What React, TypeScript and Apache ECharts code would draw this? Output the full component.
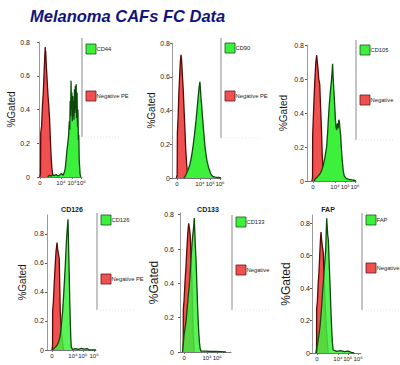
import React, { useEffect, useRef } from "react";
import * as echarts from "echarts";

// ---------- data (x in display units 0..100 of the biexponential axis, y = fraction gated) ----------
const panelNames = ["CD44", "CD90", "CD105", "CD126", "CD133", "FAP"];
const negNames = ["Negative PE", "Negative PE", "Negative", "Negative PE", "Negative", "Negative"];
const panelTitles = ["", "", "", "CD126", "CD133", "FAP"];
const yTickValues = [0, 0.2, 0.4, 0.6, 0.8];
const xTickLabels = ["0", "10⁴", "10⁵", "10⁶"];
const xTickPos = [
  [2, 51, 77, 98],
  [10, 57, 78, 98],
  [12, 57, 78, 98],
  [10, 53, 73, 96],
  [8, 53, 73, 90],
  [10, 53, 73, 94],
];
const yMax = [0.8, 0.8, 0.8, 0.93, 0.81, 0.85];

const cd44Neg = [[2,0],[3.5,0.02],[4,0.26],[6,0.3],[8,0.42],[10,0.5],[12,0.63],[13.5,0.72],[14.5,0.77],[15,0.73],[15.5,0.75],[17,0.66],[19,0.57],[21,0.48],[23,0.41],[24.5,0.35],[26,0.25],[28,0.13],[30,0.05],[32,0.015],[34,0]];
const cd44Pos = [[20,0],[24,0.01],[28,0.005],[32,0.012],[36,0.008],[40,0.015],[44,0.006],[48,0.012],[52,0.02],[56,0.01],[59,0.03],[61,0.05],[63,0.1],[65,0.16],[67,0.2],[69,0.25],[70.5,0.33],[71.5,0.28],[72.5,0.45],[73.5,0.36],[74.5,0.57],[75.5,0.4],[76.5,0.5],[77.5,0.33],[78.5,0.48],[79.5,0.36],[80.5,0.45],[81.5,0.34],[82.5,0.52],[83.5,0.38],[84.5,0.54],[85.5,0.4],[86.5,0.55],[87.5,0.35],[88.5,0.5],[89.5,0.3],[90.5,0.4],[91.5,0.22],[92.5,0.25],[93.5,0.1],[94.5,0.06],[95.5,0.02],[97,0]];
const cd90Neg = [[9,0],[10.5,0.02],[11,0.27],[12.5,0.36],[14,0.5],[15.5,0.6],[17,0.69],[18.4,0.73],[19.5,0.7],[21,0.62],[23,0.52],[25,0.38],[26.5,0.28],[28,0.17],[30,0.08],[31.5,0.03],[33,0.005],[35,0]];
const cd90Pos = [[24,0],[27,0.01],[30,0.03],[33,0.05],[36.5,0.08],[40,0.13],[43.5,0.2],[46,0.26],[49,0.34],[51.5,0.42],[53.7,0.49],[55.5,0.54],[57,0.57],[58,0.53],[59,0.48],[60.6,0.43],[62,0.37],[64,0.3],[66,0.23],[67.5,0.18],[69.4,0.14],[71.5,0.1],[74,0.07],[76,0.05],[79,0.025],[83,0.01],[88,0.005],[95,0.003],[100,0]];
const cd105Neg = [[10,0],[11.3,0.02],[11.6,0.27],[13,0.38],[14.9,0.52],[16.5,0.62],[18,0.7],[19.8,0.74],[21,0.7],[22.5,0.66],[24,0.6],[26,0.57],[27.5,0.45],[29.6,0.3],[31,0.16],[32.9,0.06],[34,0.02],[35,0]];
const cd105Pos = [[15,0],[17,0.015],[20,0.02],[23,0.03],[26,0.04],[29.6,0.06],[33,0.09],[36,0.13],[40,0.2],[42,0.28],[43.5,0.36],[45.5,0.45],[47.5,0.52],[49.5,0.58],[51,0.63],[52.2,0.69],[53.5,0.6],[54.5,0.55],[55.7,0.49],[57,0.42],[58,0.36],[59,0.32],[60.5,0.3],[62,0.34],[63.5,0.31],[65,0.36],[66,0.35],[67.5,0.3],[68.7,0.27],[70,0.2],[72,0.12],[74,0.06],[76,0.03],[80,0.015],[86,0.01],[92,0.006],[98,0.003],[100,0]];
const cd126Neg = [[10,0],[11.3,0.03],[11.6,0.27],[13,0.33],[14.5,0.44],[15.7,0.52],[17,0.6],[18.5,0.68],[20.4,0.74],[21.5,0.7],[23,0.67],[25,0.63],[26,0.45],[27,0.27],[28.5,0.17],[30.6,0.09],[32,0.04],[34,0]];
const cd126Pos = [[11,0],[14,0.01],[17,0.02],[20,0.03],[23,0.05],[25,0.07],[27,0.1],[29,0.16],[32,0.27],[34,0.38],[36,0.5],[37.7,0.61],[39.4,0.73],[41,0.82],[42.9,0.9],[44,0.72],[45.5,0.5],[46.5,0.33],[47.5,0.2],[48.5,0.09],[49.6,0.02],[52,0.005],[58,0.01],[64,0.004],[70,0.012],[76,0.006],[82,0.01],[86,0],[100,0]];
const cd133Neg = [[5,0],[6.2,0.03],[6.5,0.25],[8,0.3],[10,0.42],[11.8,0.5],[13.5,0.6],[15,0.68],[17,0.75],[18.5,0.72],[20,0.68],[21,0.6],[22,0.5],[23.5,0.4],[25,0.22],[26,0.1],[27,0.04],[28,0]];
const cd133Pos = [[5,0],[6.5,0.05],[8,0.1],[10,0.14],[11.8,0.18],[14,0.25],[16,0.32],[18,0.38],[20,0.46],[22,0.56],[23.5,0.63],[25,0.68],[26.5,0.72],[28,0.78],[29,0.7],[30,0.62],[31.4,0.54],[33,0.4],[34.7,0.25],[36.5,0.13],[38,0.06],[39.5,0.02],[41,0.005],[50,0.005],[60,0.003],[70,0.004],[80,0.002],[90,0]];
const fapNeg = [[8,0],[9.3,0.03],[9.5,0.27],[11,0.32],[12.5,0.42],[14.3,0.5],[16,0.62],[17.3,0.7],[18.4,0.745],[19.5,0.7],[21,0.66],[23,0.62],[24.5,0.48],[26.5,0.33],[28,0.22],[30,0.12],[31.5,0.05],[33,0]];
const fapPos = [[9,0],[10.5,0.04],[12,0.07],[14,0.11],[16.3,0.16],[18,0.22],[20,0.3],[21.5,0.37],[23,0.43],[24.5,0.5],[26,0.56],[27.9,0.63],[29,0.74],[30,0.83],[31,0.78],[32,0.73],[33.3,0.7],[35,0.56],[36.7,0.43],[38.3,0.29],[40,0.16],[41.5,0.07],[43,0.02],[50,0.01],[58,0.015],[66,0.008],[74,0.012],[80,0.004],[86,0]];

const negSeries = [cd44Neg, cd90Neg, cd105Neg, cd126Neg, cd133Neg, fapNeg];
const posSeries = [cd44Pos, cd90Pos, cd105Pos, cd126Pos, cd133Pos, fapPos];

// ---------- layout ----------
const grids = [
  { left: 39, top: 42, width: 43, height: 135 },
  { left: 172, top: 43, width: 49, height: 135 },
  { left: 307, top: 45, width: 49, height: 136 },
  { left: 47, top: 215, width: 49, height: 135 },
  { left: 180, top: 213, width: 51, height: 139 },
  { left: 312, top: 215, width: 49, height: 138 },
];
const nameGaps = [22, 12, 19, 20, 19, 20];
const nameSizes = [10, 10, 10, 10, 12, 12];
const labelMargins = [9, 2, 3, 3, 6, 2];
const legendLayout = [
  { x: 82, y1: 38, y2: 137, g: 44, r: 91 },
  { x: 221, y1: 38, y2: 138, g: 43, r: 91 },
  { x: 356, y1: 40, y2: 140, g: 45, r: 95 },
  { x: 97, y1: 213, y2: 310, g: 215, r: 274 },
  { x: 232, y1: 215, y2: 310, g: 217, r: 265 },
  { x: 362, y1: 213, y2: 310, g: 215, r: 263 },
];
const titlePos = [null, null, null, { x: 67, y: 201 }, { x: 203, y: 201 }, { x: 323, y: 201 }];

const GREEN = "#3cf03c";
const GREEN_DARK = "#0c4a0c";
const RED = "#f05050";
const RED_DARK = "#5a0808";
const FONT = "'Liberation Sans', Arial, sans-serif";

export default function App() {
  const ref = useRef<HTMLDivElement>(null);
  useEffect(() => {
    document.body.style.margin = "0";
    const chart = echarts.init(ref.current!, null, { renderer: "svg" });

    const xAxis = grids.map((_, i) => ({
      type: "value",
      gridIndex: i,
      min: 0,
      max: 100,
      splitLine: { show: false },
      axisLine: { show: true, lineStyle: { color: "#777", width: 1 } },
      axisTick: { show: true, length: 2, customValues: xTickPos[i], lineStyle: { color: "#777" } },
      axisLabel: {
        show: true,
        customValues: xTickPos[i],
        formatter: (v: number) => {
          const k = xTickPos[i].indexOf(v);
          return k >= 0 ? xTickLabels[k] : "";
        },
        fontSize: 6,
        color: "#222",
        margin: 3,
        fontFamily: FONT,
      },
    }));

    const yAxis = grids.map((_, i) => ({
      type: "value",
      gridIndex: i,
      min: 0,
      max: yMax[i],
      interval: 0.2,
      splitLine: { show: false },
      axisLine: { show: true, lineStyle: { color: "#999", width: 1 } },
      axisTick: { show: true, length: 2, customValues: yTickValues, lineStyle: { color: "#555" } },
      axisLabel: {
        customValues: yTickValues,
        formatter: (v: number) => (v === 0 ? "0" : v.toFixed(1)),
        fontSize: 7,
        color: "#222",
        margin: labelMargins[i],
        fontFamily: FONT,
      },
      name: "%Gated",
      nameLocation: "middle",
      nameRotate: 90,
      nameGap: nameGaps[i],
      nameTextStyle: { fontSize: nameSizes[i], color: "#1a1a1a", fontFamily: FONT },
    }));

    const series: any[] = [];
    grids.forEach((_, i) => {
      series.push({
        type: "line",
        name: negNames[i],
        xAxisIndex: i,
        yAxisIndex: i,
        data: negSeries[i],
        showSymbol: false,
        symbol: "none",
        lineStyle: { color: RED_DARK, width: 1.3 },
        itemStyle: { color: RED },
        areaStyle: { color: RED, opacity: 1 },
        z: 2,
      });
      series.push({
        type: "line",
        name: panelNames[i],
        xAxisIndex: i,
        yAxisIndex: i,
        data: posSeries[i],
        showSymbol: false,
        symbol: "none",
        lineStyle: { color: GREEN_DARK, width: 1.3 },
        itemStyle: { color: GREEN },
        areaStyle: { color: GREEN, opacity: i >= 3 ? 0.85 : 1 },
        z: 3,
      });
    });

    const graphic: any[] = [];
    legendLayout.forEach((L, i) => {
      graphic.push({ type: "line", shape: { x1: L.x, y1: L.y1, x2: L.x, y2: L.y2 }, style: { stroke: "#8a8a8a", lineWidth: 1 } });
      graphic.push({ type: "line", shape: { x1: L.x, y1: L.y2, x2: L.x + 38, y2: L.y2 }, style: { stroke: "#e2e2e2", lineWidth: 1, lineDash: [1, 2] } });
      graphic.push({ type: "rect", shape: { x: L.x + 4, y: L.g, width: 10, height: 10 }, style: { fill: GREEN, stroke: "#1e4e1e", lineWidth: 0.8 } });
      graphic.push({ type: "text", x: L.x + 14.5, y: L.g + 5, style: { text: panelNames[i], fontSize: 5.8, fill: "#222", fontFamily: FONT, verticalAlign: "middle" } });
      graphic.push({ type: "rect", shape: { x: L.x + 4, y: L.r, width: 10, height: 10 }, style: { fill: RED, stroke: "#5a1a1a", lineWidth: 0.8 } });
      graphic.push({ type: "text", x: L.x + 14.5, y: L.r + 5, style: { text: negNames[i], fontSize: 5.8, fill: "#222", fontFamily: FONT, verticalAlign: "middle" } });
    });

    const titles: any[] = [
      {
        text: "Melanoma CAFs FC Data",
        left: 30,
        top: 7,
        padding: 0,
        textStyle: { fontSize: 16.5, fontWeight: "bold", fontStyle: "italic", color: "#12127e", fontFamily: FONT },
      },
    ];
    titlePos.forEach((p, i) => {
      if (!p) return;
      titles.push({
        text: panelTitles[i],
        left: p.x,
        top: p.y,
        textAlign: "center",
        textStyle: { fontSize: 7, fontWeight: "bold", color: "#222", fontFamily: FONT },
      });
    });

    chart.setOption({
      animation: false,
      backgroundColor: "#ffffff",
      title: titles,
      grid: grids.map((g) => ({ ...g, containLabel: false })),
      xAxis,
      yAxis,
      series,
      graphic,
    });
    return () => chart.dispose();
  }, []);
  return <div ref={ref} style={{ position: "absolute", left: 0, top: 0, width: 400, height: 365 }} />;
}
